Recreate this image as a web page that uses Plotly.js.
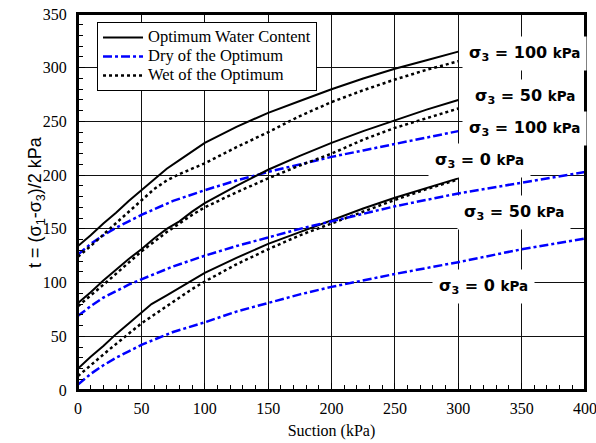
<!DOCTYPE html>
<html>
<head>
<meta charset="utf-8">
<script src="https://cdn.plot.ly/plotly-3.0.1.min.js"></script>
<style>html,body{margin:0;padding:0;background:#fff}#chart{width:596px;height:443px}</style>
</head>
<body>
<div id="chart"></div>
<script>
// Optimum water content (solid black)
const optX100 = [0,10,20,30,40,50,60,70,80,90,100,125,150,175,200,225,250,275,300];
const optY100 = [134,144,155,165,176,186,196,206,214,222,230,245,258,269,280,290,299,307,315];
const optX50  = [0,10,20,30,40,50,60,70,80,90,100,125,150,175,200,225,250,275,300];
const optY50  = [81,91,102,112,122,131,141,150,157,166,174,190,205,218,230,241,251,261,270];
const optX0   = [0,10,20,30,40,50,58,70,80,90,100,125,150,175,200,225,250,275,300];
const optY0   = [20,31,41,52,62,72,80,88,95,102,109,123,136,147,158,169,179,188,197];
// Wet of the optimum (dotted black)
const wetX100 = [0,10,25,50,60,70,80,90,100,125,150,175,200,225,250,275,300];
const wetY100 = [124,134,150,177,187,195,201,206,211,226,240,255,268,279,289,298,306];
const wetX50  = [0,10,25,50,60,70,80,90,100,125,150,175,200,225,250,275,300];
const wetY50  = [78,88,103,129,138,147,155,163,170,184,197,209,220,233,244,253,262];
const wetX0   = [0,10,25,50,60,70,80,90,100,125,150,175,200,225,250,275,300];
const wetY0   = [13,23,38,62,70,78,86,94,101,117,131,144,155,166,177,187,196];
// Dry of the optimum (blue dash-dot)
const dryX100 = [0,10,20,30,40,50,75,100,125,150,175,200,225,250,275,300];
const dryY100 = [126,136,144,151,157,163,176,186,195,203,210,217,223,229,235,241];
const dryX50  = [0,10,20,30,40,50,75,100,125,150,175,200,250,300,350,400];
const dryY50  = [69,78,86,92,98,103,115,125,134,142,150,157,171,183,193,203];
const dryX0   = [0,10,20,30,40,50,75,100,125,150,175,200,250,300,350,400];
const dryY0   = [5,15,23,30,36,42,54,63,73,81,89,96,108,119,131,141];

const seriesNames = ['Optimum Water Content','Dry of the Optimum','Wet of the Optimum'];
const xTicks = [0,50,100,150,200,250,300,350,400];
const yTicks = [0,50,100,150,200,250,300,350];

// Annotation labels
const labelText = ['100','50','100','0','50','0'];
const labelX = [352,353,352,317,344,320];
const labelY = [312.8,272.8,243,214,164.8,96.8];

const solid = {color:'#000', width:2, dash:'solid'};
const dot = {color:'#000', width:2.5, dash:'dot'};
const dashdot = {color:'#0000ff', width:2.5, dash:'9px,3px,3px,3px'};

function tr(x,y,line,name,show,grp){
  return {x:x,y:y,type:'scatter',mode:'lines',line:line,
    name:'<span style="font-size:16.5px">'+name+'</span>',
    showlegend:show,legendgroup:grp,hoverinfo:'skip'};
}
const data = [
  tr(optX100,optY100,solid,seriesNames[0],true,'o'),
  tr(dryX100,dryY100,dashdot,seriesNames[1],true,'d'),
  tr(wetX100,wetY100,dot,seriesNames[2],true,'w'),
  tr(optX50,optY50,solid,seriesNames[0],false,'o'),
  tr(optX0,optY0,solid,seriesNames[0],false,'o'),
  tr(wetX50,wetY50,dot,seriesNames[2],false,'w'),
  tr(wetX0,wetY0,dot,seriesNames[2],false,'w'),
  tr(dryX50,dryY50,dashdot,seriesNames[1],false,'d'),
  tr(dryX0,dryY0,dashdot,seriesNames[1],false,'d')
];

const annotations = labelText.map((t,i)=>({
  x:labelX[i], y:labelY[i], xref:'x', yref:'y', showarrow:false,
  text:'<b>σ<sub>3</sub> = '+t+' <span style="font-size:13.5px">kPa</span></b>',
  font:{family:'DejaVu Sans', size:16, color:'#000'},
  bgcolor:'#ffffff', borderpad:6, xanchor:'center', yanchor:'middle'
}));
annotations.push({
  xref:'paper', yref:'paper', x:-0.083, y:0.5, textangle:-90, showarrow:false,
  xanchor:'center', yanchor:'middle',
  text:'t = (σ<sub>1</sub>-σ<sub>3</sub>)/2 kPa',
  font:{family:'Liberation Sans, Arial', size:18, color:'#000'}
});

const axisCommon = {
  showline:true, linecolor:'#000', linewidth:2, mirror:true,
  showgrid:true, gridcolor:'#111', gridwidth:1, zeroline:false,
  ticks:'inside', ticklen:7, tickcolor:'#000', tickwidth:1,
  ticklabeloverflow:'allow',
  tickfont:{family:'Liberation Serif, Times New Roman', size:16, color:'#000'},
  minor:{ticks:'inside', ticklen:5, dtick:10, tickcolor:'#000', tickwidth:1, showgrid:false}
};

const layout = {
  width:596, height:443,
  margin:{l:78, r:11, t:14, b:53},
  paper_bgcolor:'#fff', plot_bgcolor:'#fff',
  showlegend:true,
  legend:{x:0.0375, y:0.979, xanchor:'left', yanchor:'top', bgcolor:'#fff',
    bordercolor:'#000', borderwidth:1, itemwidth:40, tracegroupgap:0,
    font:{family:'Liberation Serif, Times New Roman', size:11.5, color:'#000'}},
  xaxis:Object.assign({}, axisCommon, {range:[0,400], tickvals:xTicks, ticktext:xTicks.map(String), ticklabelstandoff:3,
    title:{text:'Suction (kPa)', font:{family:'Liberation Serif, Times New Roman', size:16, color:'#000'}, standoff:9}}),
  yaxis:Object.assign({}, axisCommon, {range:[0,350], tickvals:yTicks, ticktext:yTicks.map(String), ticklabelstandoff:6}),
  shapes:[{type:'rect', xref:'paper', yref:'paper', x0:0, x1:1, y0:0, y1:1,
    line:{color:'#000', width:2}, fillcolor:'rgba(0,0,0,0)', layer:'above'}],
  annotations:annotations
};

Plotly.newPlot('chart', data, layout, {displayModeBar:false, staticPlot:true});
</script>
</body>
</html>
